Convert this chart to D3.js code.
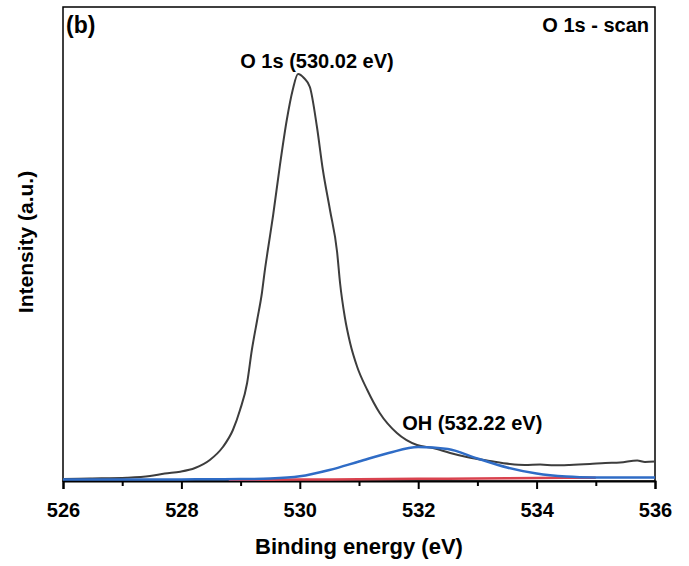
<!DOCTYPE html>
<html>
<head>
<meta charset="utf-8">
<script src="https://cdn.jsdelivr.net/npm/d3@7"></script>
<style>
  body { margin: 0; background: #fff; }
  text { font-family: "Liberation Sans", Arial, sans-serif; font-weight: bold; }
</style>
</head>
<body>
<div id="vis"></div>
<script>
// measured spectrum (binding energy in eV, intensity in a.u.)
var energyRaw = [526.00, 526.46, 527.08, 527.47, 527.72, 527.98, 528.23, 528.48, 528.70, 528.87,
                 528.99, 529.11, 529.19, 529.28, 529.36, 529.41, 529.46, 529.55, 529.66, 529.78,
                 529.88, 529.97, 530.07, 530.17, 530.29, 530.39, 530.51, 530.63, 530.68, 530.76,
                 530.85, 530.97, 531.14, 531.35, 531.64, 531.98, 532.25, 532.54, 532.82, 533.21,
                 533.55, 533.80, 534.06, 534.30, 534.56, 534.90, 535.16, 535.41, 535.70, 535.83, 536.00];
var intensityRaw = [0.42, 0.53, 0.70, 1.05, 1.58, 1.96, 2.74, 4.43, 7.17, 10.76,
                    14.98, 20.68, 27.64, 33.97, 39.66, 44.51, 48.73, 56.12, 66.24, 76.16,
                    82.49, 85.86, 85.02, 83.12, 74.68, 65.61, 57.17, 48.31, 41.77, 34.60,
                    29.11, 24.05, 19.20, 14.35, 10.13, 7.59, 6.96, 5.91, 5.06, 4.22,
                    3.59, 3.40, 3.48, 3.30, 3.38, 3.59, 3.80, 3.90, 4.32, 4.01, 4.11];

// OH component fit
var energyOH = [526.0, 527.0, 528.0, 528.5, 529.0, 529.5, 530.0, 530.5, 531.0, 531.5,
                532.0, 532.5, 533.0, 533.5, 534.0, 534.5, 535.0, 535.5, 536.0];
var intensityOH = [0.30, 0.32, 0.34, 0.36, 0.40, 0.52, 0.98, 2.32, 4.11, 5.91,
                   7.17, 6.75, 4.75, 2.85, 1.58, 0.95, 0.75, 0.72, 0.72];

// background
var energyBg = [528.8, 529.0, 530.0, 531.0, 532.0, 533.0, 534.0, 535.0];
var intensityBg = [0.25, 0.26, 0.30, 0.38, 0.46, 0.54, 0.62, 0.70];

var xTicks = [526, 528, 530, 532, 534, 536];
var xMinorTicks = [527, 529, 531, 533, 535];

var margin = {top: 7, right: 34, bottom: 85, left: 63},
    width = 689 - margin.left - margin.right,
    height = 566 - margin.top - margin.bottom;

var svg = d3.select("#vis")
    .append("svg")
        .attr("width", 689)
        .attr("height", 566)
    .append("g")
        .attr("transform", "translate(" + margin.left + "," + margin.top + ")");

var x = d3.scaleLinear().domain([526, 536]).range([0, width]);
var y = d3.scaleLinear().domain([0, 100]).range([height, 0]);

function series(ex, ey) {
    return ex.map(function(e, i) { return {e: e, v: ey[i]}; });
}

var line = d3.line()
    .x(d => x(d.e))
    .y(d => y(d.v))
    .curve(d3.curveMonotoneX);

// frame
svg.append("rect")
    .attr("width", width)
    .attr("height", height)
    .attr("fill", "none")
    .attr("stroke", "#000")
    .attr("stroke-width", 1.5);

// x axis
var xAxis = svg.append("g")
    .attr("transform", "translate(0," + height + ")")
    .call(d3.axisBottom(x).tickValues(xTicks).tickSize(8).tickPadding(14).tickFormat(d3.format("d")));
xAxis.select(".domain").attr("stroke-width", 2);
xAxis.selectAll(".tick line").attr("stroke-width", 2);
xAxis.selectAll("text")
    .attr("font-size", 20)
    .attr("fill", "#000")
    .style("font-family", "'Liberation Sans', Arial, sans-serif")
    .style("font-weight", "bold");

svg.append("g")
    .attr("transform", "translate(0," + height + ")")
    .call(d3.axisBottom(x).tickValues(xMinorTicks).tickSize(5).tickFormat(""))
    .call(g => g.select(".domain").remove())
    .selectAll(".tick line").attr("stroke-width", 2);

// curves
svg.append("path")
    .datum(series(energyBg, intensityBg))
    .attr("fill", "none")
    .attr("stroke", "#d9434f")
    .attr("stroke-width", 2.5)
    .attr("d", line);

svg.append("path")
    .datum(series(energyRaw, intensityRaw))
    .attr("fill", "none")
    .attr("stroke", "#3d3d3d")
    .attr("stroke-width", 2)
    .attr("d", line);

svg.append("path")
    .datum(series(energyOH, intensityOH))
    .attr("fill", "none")
    .attr("stroke", "#2f6cc6")
    .attr("stroke-width", 2.5)
    .attr("d", line);

// axis titles
svg.append("text")
    .attr("x", width / 2)
    .attr("y", 547)
    .attr("text-anchor", "middle")
    .attr("font-size", 22)
    .text("Binding energy (eV)");

svg.append("text")
    .attr("transform", "translate(-30," + 235 + ") rotate(-90)")
    .attr("text-anchor", "middle")
    .attr("font-size", 21)
    .text("Intensity (a.u.)");

// annotations
svg.append("text")
    .attr("x", 3)
    .attr("y", 26)
    .attr("font-size", 23)
    .text("(b)");

svg.append("text")
    .attr("x", width - 6)
    .attr("y", 25)
    .attr("text-anchor", "end")
    .attr("font-size", 20)
    .text("O 1s - scan");

svg.append("text")
    .attr("x", x(530.02) + 16)
    .attr("y", 61)
    .attr("text-anchor", "middle")
    .attr("font-size", 20)
    .text("O 1s (530.02 eV)");

svg.append("text")
    .attr("x", x(532.22) - 29)
    .attr("y", 423)
    .attr("font-size", 20)
    .text("OH (532.22 eV)");
</script>
</body>
</html>
